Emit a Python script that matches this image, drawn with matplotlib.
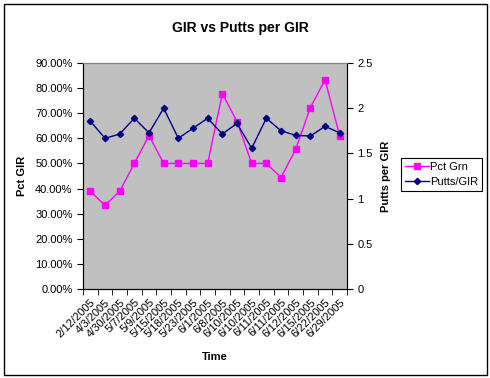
import matplotlib
matplotlib.use('Agg')
import matplotlib.pyplot as plt
from matplotlib.patches import Rectangle
from matplotlib.ticker import PercentFormatter, FixedLocator

plt.rcParams['font.family'] = ['Liberation Sans', 'DejaVu Sans']

dates = ["2/12/2005", "4/3/2005", "4/30/2005", "5/7/2005", "5/9/2005", "5/15/2005",
         "5/18/2005", "5/23/2005", "6/1/2005", "6/8/2005", "6/10/2005", "6/10/2005",
         "6/11/2005", "6/11/2005", "6/12/2005", "6/15/2005", "6/22/2005", "6/29/2005"]
pct_grn = [0.389, 0.333, 0.389, 0.500, 0.611, 0.500, 0.500, 0.500, 0.500,
           0.778, 0.667, 0.500, 0.500, 0.444, 0.556, 0.722, 0.833, 0.611]
putts_gir = [1.857, 1.667, 1.714, 1.889, 1.727, 2.000, 1.667, 1.778, 1.889,
             1.714, 1.833, 1.556, 1.889, 1.750, 1.700, 1.692, 1.800, 1.727]

fig = plt.figure(figsize=(4.9, 3.78), dpi=100, facecolor='white')
ax = fig.add_axes([83 / 490, 89 / 378, 264 / 490, 226 / 378])
ax.set_facecolor('#C0C0C0')
ax2 = ax.twinx()

x = list(range(len(dates)))
l1, = ax.plot(x, pct_grn, color='#FF00FF', marker='s', markersize=4, linewidth=1, label='Pct Grn')
l2, = ax2.plot(x, putts_gir, color='#000080', marker='D', markersize=3.2, linewidth=1, label='Putts/GIR')

ax.set_xlim(-0.5, len(dates) - 0.5)
ax.set_ylim(0, 0.9)
ax.set_yticks([i / 10 for i in range(10)])
ax.yaxis.set_major_formatter(PercentFormatter(1.0, decimals=2))
ax2.set_ylim(0, 2.5)
ax2.set_yticks([0, 0.5, 1, 1.5, 2, 2.5])
ax2.set_yticklabels(["0", "0.5", "1", "1.5", "2", "2.5"])

ax.set_xticks(x)
ax.set_xticklabels(dates, rotation=45, ha='right', rotation_mode='anchor', fontsize=8)
ax.tick_params(axis='x', which='major', length=0, pad=6)
ax.xaxis.set_minor_locator(FixedLocator([i - 0.5 for i in range(len(dates) + 1)]))
ax.tick_params(axis='x', which='minor', length=4, direction='out')
ax.tick_params(axis='y', labelsize=8, length=4, direction='out')
ax2.tick_params(axis='y', labelsize=8, length=4, direction='out')

for a in (ax, ax2):
    a.spines['top'].set_color('#808080')
    a.spines['left'].set_color('black')
    a.spines['bottom'].set_color('black')
    a.spines['right'].set_color('black')

ax.set_xlabel('Time', fontsize=8, fontweight='bold', labelpad=9)
ax.set_ylabel('Pct GIR', fontsize=8, fontweight='bold', labelpad=6)
ax2.set_ylabel('Putts per GIR', fontsize=8, fontweight='bold', labelpad=6)

fig.text(0.49, 1 - 28 / 378, 'GIR vs Putts per GIR', ha='center', va='center',
         fontsize=10, fontweight='bold')

leg = fig.legend([l1, l2], ['Pct Grn', 'Putts/GIR'], loc='upper left',
                 bbox_to_anchor=(401 / 490, 1 - 158 / 378), fontsize=8,
                 fancybox=False, framealpha=1, edgecolor='black',
                 handlelength=2.2, borderpad=0.35, labelspacing=0.45,
                 handletextpad=0.1, borderaxespad=0)
leg.get_frame().set_linewidth(0.8)

fig.patches.append(Rectangle((4 / 490, 3 / 378), 483 / 490, 371 / 378,
                             transform=fig.transFigure, fill=False,
                             edgecolor='black', linewidth=1))

fig.savefig('out.png', dpi=100)
